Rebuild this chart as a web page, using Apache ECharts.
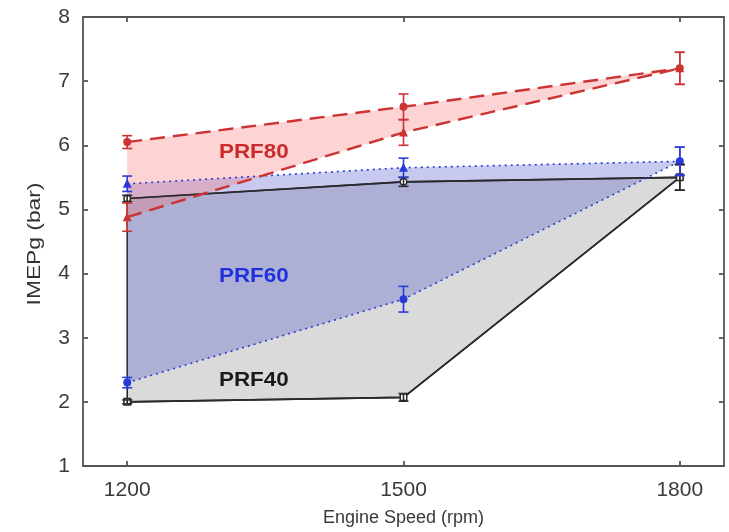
<!DOCTYPE html>
<html>
<head>
<meta charset="utf-8">
<title>IMEPg vs Engine Speed</title>
<script src="https://cdn.jsdelivr.net/npm/echarts@6/dist/echarts.min.js"></script>
<style>
  html, body { margin: 0; padding: 0; background: #fff; }
  #chart { width: 729px; height: 532px; }
</style>
</head>
<body>
<div id="chart"></div>
<script>
// Engine speeds (rpm)
const speeds = [1200, 1500, 1800];
const xTicks = [1200, 1500, 1800];
const yTicks = [1, 2, 3, 4, 5, 6, 7, 8];

// IMEPg operating range boundaries (bar) with error bars
const prf80Upper = [6.05, 6.6, 7.2];
const prf80UpperErr = [0.1, 0.2, 0.25];
const prf80Lower = [4.88, 6.2, 7.2];
const prf80LowerErr = [0.22, 0.2, 0.25];

const prf60Upper = [5.4, 5.65, 5.75];
const prf60UpperErr = [0.12, 0.15, 0.22];
const prf60Lower = [2.3, 3.6, 5.75];
const prf60LowerErr = [0.08, 0.2, 0.22];

const prf40Upper = [5.17, 5.43, 5.5];
const prf40UpperErr = [0.05, 0.07, 0.2];
const prf40Lower = [2.0, 2.07, 5.5];
const prf40LowerErr = [0.03, 0.06, 0.2];

const RED = '#cc3333';
const BLUE = '#2a3ad8';
const BLACK = '#2a2a2a';
const FONT = 'Liberation Sans, Arial, sans-serif';

const pairs = (xs, ys) => xs.map((x, i) => [x, ys[i]]);
// closed ring: upper boundary left-to-right, lower boundary right-to-left
const ring = (up, lo) => pairs(speeds, up).concat(pairs(speeds, lo).reverse());

function areaSeries(name, up, lo, style, z) {
  return {
    type: 'custom', name, z, silent: true,
    data: ring(up, lo),
    encode: { x: 0, y: 1 },
    renderItem(params, api) {
      if (params.dataIndex !== 0) return null;
      const pts = ring(up, lo).map(p => api.coord(p));
      return { type: 'polygon', shape: { points: pts }, style };
    }
  };
}

function errorSeries(ys, errs, color, z) {
  return {
    type: 'custom', z, silent: true,
    data: speeds.map((x, i) => [x, ys[i], errs[i]]),
    encode: { x: 0, y: 1 },
    renderItem(params, api) {
      const x = api.value(0), y = api.value(1), e = api.value(2);
      const top = api.coord([x, y + e]);
      const bot = api.coord([x, y - e]);
      const w = 5;
      const st = { stroke: color, lineWidth: 1.6 };
      return {
        type: 'group',
        children: [
          { type: 'line', shape: { x1: top[0], y1: top[1], x2: bot[0], y2: bot[1] }, style: st },
          { type: 'line', shape: { x1: top[0] - w, y1: top[1], x2: top[0] + w, y2: top[1] }, style: st },
          { type: 'line', shape: { x1: bot[0] - w, y1: bot[1], x2: bot[0] + w, y2: bot[1] }, style: st }
        ]
      };
    }
  };
}

function boundary(ys, color, type, width, symbol, filled, z) {
  return {
    type: 'line', z, silent: true,
    data: pairs(speeds, ys),
    symbol, symbolSize: 6.5, showSymbol: true,
    lineStyle: { color, type, width },
    itemStyle: { color: filled ? color : '#fff', borderColor: color, borderWidth: 1.5 }
  };
}

const chart = echarts.init(document.getElementById('chart'), null, { renderer: 'canvas' });

const axisLineStyle = { color: '#555', width: 1.8 };
const tickFont = { fontFamily: FONT, fontSize: 21, color: '#3a3a3a' };
const labelFmt = v => String(v);

chart.setOption({
  animation: false,
  backgroundColor: '#fff',
  grid: { left: 83, right: 5, top: 17, bottom: 64, containLabel: false },
  xAxis: [
    {
      type: 'value', min: 1152, max: 1848, position: 'bottom',
      name: 'Engine Speed (rpm)', nameLocation: 'middle', nameGap: 43,
      nameTextStyle: { fontFamily: FONT, fontSize: 18, color: '#3a3a3a' },
      axisLine: { lineStyle: axisLineStyle },
      axisTick: { inside: true, length: 5, lineStyle: axisLineStyle, customValues: xTicks },
      axisLabel: Object.assign({ margin: 14, customValues: xTicks, formatter: labelFmt }, tickFont),
      splitLine: { show: false }
    },
    {
      type: 'value', min: 1152, max: 1848, position: 'top',
      axisLine: { show: true, lineStyle: axisLineStyle },
      axisTick: { inside: true, length: 5, lineStyle: axisLineStyle, customValues: xTicks },
      axisLabel: { show: false },
      splitLine: { show: false }
    }
  ],
  yAxis: [
    {
      type: 'value', min: 1, max: 8, interval: 1, position: 'left',
      axisLine: { show: true, lineStyle: axisLineStyle },
      axisTick: { inside: true, length: 5, lineStyle: axisLineStyle },
      axisLabel: Object.assign({ margin: 13, customValues: yTicks, formatter: labelFmt }, tickFont),
      splitLine: { show: false }
    },
    {
      type: 'value', min: 1, max: 8, interval: 1, position: 'right',
      axisLine: { show: true, lineStyle: axisLineStyle },
      axisTick: { inside: true, length: 5, lineStyle: axisLineStyle },
      axisLabel: { show: false },
      splitLine: { show: false }
    }
  ],
  graphic: [
    // y-axis title
    { type: 'text', x: 35, y: 244, rotation: Math.PI / 2, scaleX: 1.2, z: 100,
      style: { text: 'IMEPg (bar)', fill: '#333', font: '19px ' + FONT,
               textAlign: 'center', textVerticalAlign: 'middle' } },
    // range labels
    { type: 'text', x: 219, y: 152, scaleX: 1.12, z: 100,
      style: { text: 'PRF80', fill: '#cc2a2a', font: 'bold 20px ' + FONT,
               textAlign: 'left', textVerticalAlign: 'middle' } },
    { type: 'text', x: 219, y: 276, scaleX: 1.12, z: 100,
      style: { text: 'PRF60', fill: '#2030dd', font: 'bold 20px ' + FONT,
               textAlign: 'left', textVerticalAlign: 'middle' } },
    { type: 'text', x: 219, y: 380, scaleX: 1.12, z: 100,
      style: { text: 'PRF40', fill: '#1a1a1a', font: 'bold 20px ' + FONT,
               textAlign: 'left', textVerticalAlign: 'middle' } }
  ],
  series: [
    // filled operating ranges
    areaSeries('PRF40', prf40Upper, prf40Lower, { fill: '#dadada', stroke: BLACK, lineWidth: 1.6 }, 1),
    areaSeries('PRF60', prf60Upper, prf60Lower, { fill: 'rgba(70,80,200,0.30)' }, 2),
    areaSeries('PRF80', prf80Upper, prf80Lower, { fill: 'rgba(248,110,110,0.30)' }, 3),
    // boundary lines
    boundary(prf40Upper, BLACK, 'solid', 1.6, 'circle', false, 5),
    boundary(prf40Lower, BLACK, 'solid', 1.6, 'rect', false, 5),
    boundary(prf60Upper, BLUE, [2, 4], 1.6, 'triangle', true, 6),
    boundary(prf60Lower, BLUE, [2, 4], 1.6, 'circle', true, 6),
    boundary(prf80Upper, RED, [15, 8], 2.4, 'circle', true, 7),
    boundary(prf80Lower, RED, [15, 8], 2.4, 'triangle', true, 7),
    // error bars
    errorSeries(prf40Upper, prf40UpperErr, BLACK, 8),
    errorSeries(prf40Lower, prf40LowerErr, BLACK, 8),
    errorSeries(prf60Upper, prf60UpperErr, BLUE, 8),
    errorSeries(prf60Lower, prf60LowerErr, BLUE, 8),
    errorSeries(prf80Upper, prf80UpperErr, RED, 8),
    errorSeries(prf80Lower, prf80LowerErr, RED, 8)
  ]
});
</script>
</body>
</html>
